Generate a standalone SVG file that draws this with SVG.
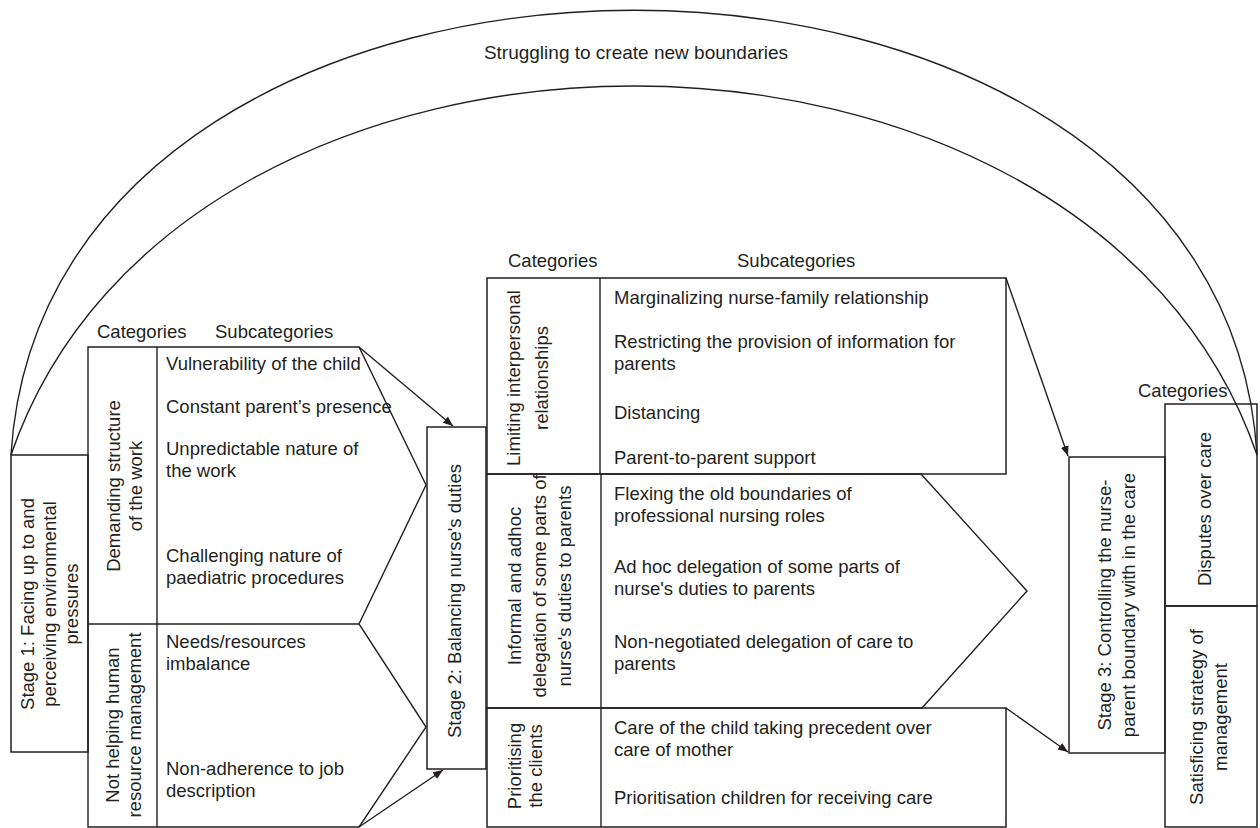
<svg xmlns="http://www.w3.org/2000/svg" width="1260" height="828" viewBox="0 0 1260 828">
  <defs>
    <marker id="arr" viewBox="0 0 10 10" refX="10" refY="5" markerWidth="10" markerHeight="10" markerUnits="userSpaceOnUse" orient="auto">
      <path d="M0,1 L10,5 L0,9 Z" fill="#231f20"/>
    </marker>
    <style>
      .ln { fill: none; stroke: #231f20; stroke-width: 1.4; }
      .bx { fill: none; stroke: #231f20; stroke-width: 1.5; }
      .t { font-family: "Liberation Sans", Arial, sans-serif; font-size: 18.5px; fill: #231f20; }
      .m { text-anchor: middle; }
    </style>
  </defs>
  <rect width="1260" height="828" fill="#ffffff"/>

  <g id="arcs">
    <path class="ln" d="M11,455 C47,-138 1221,-138 1257,455"/>
    <path class="ln" d="M11,455 C180,-37 1088,-37 1257,455"/>
    <text class="t m" x="636" y="59" style="font-size:19px">Struggling to create new boundaries</text>
  </g>

  <g id="stage1">
    <rect class="bx" x="11" y="455" width="77" height="297"/>
    <text class="t m" transform="translate(33.5,604) rotate(-90)"><tspan x="0" dy="0">Stage 1: Facing up to and</tspan><tspan x="0" dy="22">perceiving environmental</tspan><tspan x="0" dy="22">pressures</tspan></text>
  </g>

  <g id="stage1-table">
    <text class="t" x="97" y="338">Categories</text>
    <text class="t" x="215" y="338">Subcategories</text>
    <path class="ln" d="M88,347 H359 L426,485 L359,624 L426,727 L359,827 H88 Z"/>
    <line class="ln" x1="88" y1="624" x2="359" y2="624"/>
    <line class="ln" x1="157" y1="347" x2="157" y2="827"/>
    <g id="cat-demanding">
      <text class="t m" transform="translate(120,486) rotate(-90)"><tspan x="0" dy="0">Demanding structure</tspan><tspan x="0" dy="21.5">of the work</tspan></text>
      <text class="t" x="166" y="370">Vulnerability of the child</text>
      <text class="t" x="166" y="413">Constant parent’s presence</text>
      <text class="t" x="166" y="455">Unpredictable nature of</text>
      <text class="t" x="166" y="477">the work</text>
      <text class="t" x="166" y="562">Challenging nature of</text>
      <text class="t" x="166" y="584">paediatric procedures</text>
    </g>
    <g id="cat-hrm">
      <text class="t m" transform="translate(119,725) rotate(-90)"><tspan x="0" dy="0">Not helping human</tspan><tspan x="0" dy="22">resource management</tspan></text>
      <text class="t" x="166" y="648">Needs/resources</text>
      <text class="t" x="166" y="670">imbalance</text>
      <text class="t" x="166" y="775">Non-adherence to job</text>
      <text class="t" x="166" y="797">description</text>
    </g>
  </g>

  <g id="stage2">
    <rect class="bx" x="427" y="427" width="59" height="342"/>
    <text class="t m" transform="translate(461,601) rotate(-90)">Stage 2: Balancing nurse's duties</text>
  </g>

  <g id="stage2-table">
    <text class="t" x="508" y="267">Categories</text>
    <text class="t" x="737" y="267">Subcategories</text>
    <g id="cat-limiting">
      <rect class="bx" x="487" y="278" width="519" height="196"/>
      <line class="ln" x1="600" y1="278" x2="600" y2="474"/>
      <text class="t m" transform="translate(520,378) rotate(-90)"><tspan x="0" dy="0">Limiting interpersonal</tspan><tspan x="0" dy="28">relationships</tspan></text>
      <text class="t" x="614" y="304">Marginalizing nurse-family relationship</text>
      <text class="t" x="614" y="348">Restricting the provision of information for</text>
      <text class="t" x="614" y="370">parents</text>
      <text class="t" x="614" y="419">Distancing</text>
      <text class="t" x="614" y="464">Parent-to-parent support</text>
    </g>
    <g id="cat-informal">
      <path class="ln" d="M487,474 H921 L1027,591 L922,708 H487 Z"/>
      <line class="ln" x1="601" y1="474" x2="601" y2="708"/>
      <text class="t m" transform="translate(521,586) rotate(-90)"><tspan x="0" dy="0">Informal and adhoc</tspan><tspan x="0" dy="25">delegation of some parts of</tspan><tspan x="0" dy="25">nurse's duties to parents</tspan></text>
      <text class="t" x="614" y="500">Flexing the old boundaries of</text>
      <text class="t" x="614" y="522">professional nursing roles</text>
      <text class="t" x="614" y="573">Ad hoc delegation of some parts of</text>
      <text class="t" x="614" y="595">nurse's duties to parents</text>
      <text class="t" x="614" y="648">Non-negotiated delegation of care to</text>
      <text class="t" x="614" y="670">parents</text>
    </g>
    <g id="cat-prioritising">
      <rect class="bx" x="487" y="708" width="519" height="119"/>
      <line class="ln" x1="601" y1="708" x2="601" y2="827"/>
      <text class="t m" transform="translate(521,766) rotate(-90)"><tspan x="0" dy="0">Prioritising</tspan><tspan x="0" dy="21">the clients</tspan></text>
      <text class="t" x="614" y="734">Care of the child taking precedent over</text>
      <text class="t" x="614" y="756">care of mother</text>
      <text class="t" x="614" y="804">Prioritisation children for receiving care</text>
    </g>
  </g>

  <g id="stage3">
    <rect class="bx" x="1069" y="457" width="96" height="296"/>
    <text class="t m" transform="translate(1111,605) rotate(-90)"><tspan x="0" dy="0">Stage 3: Controlling the nurse-</tspan><tspan x="0" dy="24">parent boundary with in the care</tspan></text>
  </g>

  <g id="stage3-table">
    <text class="t" x="1138" y="397">Categories</text>
    <g id="cat-disputes">
      <rect class="bx" x="1165" y="404" width="92" height="202"/>
      <text class="t m" transform="translate(1211,509) rotate(-90)">Disputes over care</text>
    </g>
    <g id="cat-satisficing">
      <rect class="bx" x="1165" y="606" width="92" height="221"/>
      <text class="t m" transform="translate(1203,717) rotate(-90)"><tspan x="0" dy="0">Satisficing strategy of</tspan><tspan x="0" dy="24">management</tspan></text>
    </g>
  </g>

  <g id="connectors">
    <line class="ln" x1="359" y1="347" x2="453" y2="426" marker-end="url(#arr)"/>
    <line class="ln" x1="359" y1="827" x2="443" y2="770" marker-end="url(#arr)"/>
    <line class="ln" x1="1006" y1="278" x2="1068" y2="456" marker-end="url(#arr)"/>
    <line class="ln" x1="1006" y1="708" x2="1068" y2="752" marker-end="url(#arr)"/>
  </g>
</svg>
